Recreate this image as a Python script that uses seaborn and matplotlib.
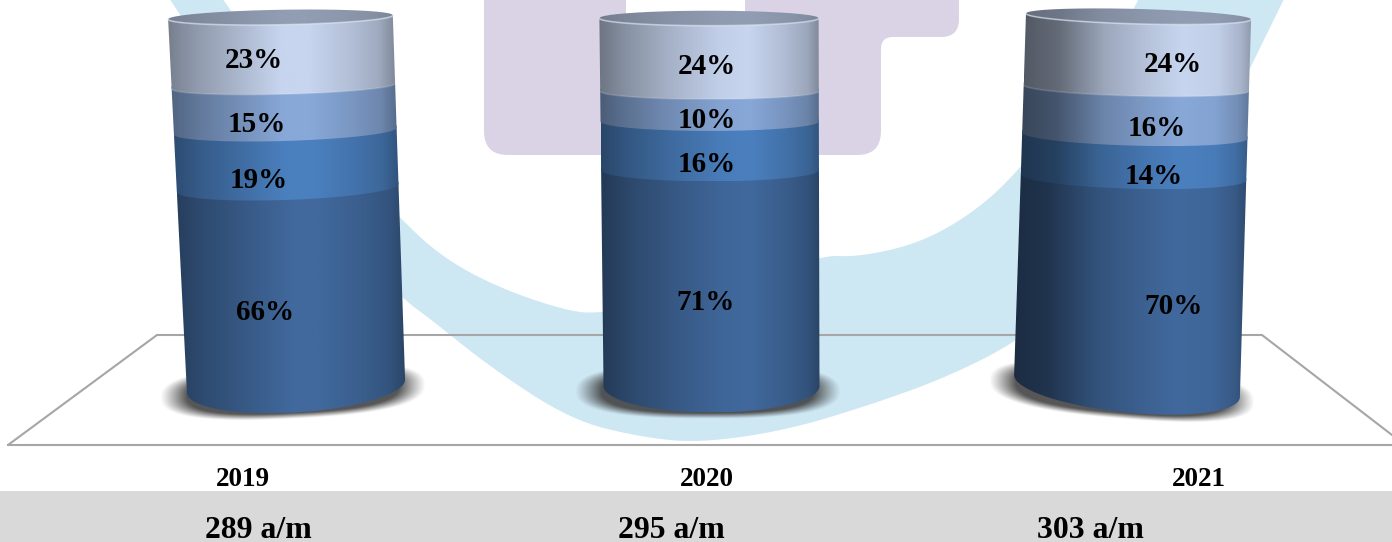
import numpy as np
import pandas as pd
import matplotlib
matplotlib.use('Agg')
import matplotlib.pyplot as plt
import seaborn as sns
from matplotlib.path import Path
from matplotlib.patches import PathPatch, Rectangle
from matplotlib.transforms import Affine2D

# data
years = ['2019', '2020', '2021']
share_1 = [66, 71, 70]
share_2 = [19, 16, 14]
share_3 = [15, 10, 16]
share_4 = [23, 24, 24]
totals = ['289 a/m', '295 a/m', '303 a/m']

# colours of the layers, bottom to top
layer_colors = ['#41699d', '#4b80bf', '#88a8d8', '#c7d5ef']

# drawing settings, all in pixels of the 1392x542 picture
W, H = 1392, 542
base_y = 386
unit_px = 2.98
lean = [-15.5, -2.5, 11.5]
tilt_top = [-4, 0, 6]
tilt_mid = [-8, 0, 6]
tilt_bottom = [-13, 0, 22]
stretch = [1.006, 1.02, 1.0]
width_bottom = [1.0, .99, 1.035]
width_top = [1.03, 1.005, 1.032]
shadow_x = [293, 708, 1122]
year_pos = [(243, 480), (707, 479), (1199, 479)]
total_pos = [(258, 530), (671, 530), (1090, 530)]
label_pos = [
    [(265, 312), (259, 180), (257, 124), (254, 61)],
    [(706, 303), (707, 164), (707, 121), (707, 66)],
    [(1174, 307), (1154, 176), (1157, 129), (1173, 64)],
]
light = [
    ([0, .12, .3, .5, .62, .8, .93, 1], [.6, .72, .85, 1, 1, .9, .8, .65]),
    ([0, .12, .3, .55, .68, .85, .95, 1], [.55, .68, .82, .97, 1, .88, .78, .65]),
    ([0, .15, .35, .55, .7, .85, .95, 1], [.42, .5, .78, .92, 1, .97, .85, .72]),
]

sns.set_theme(style='white')
plt.rcParams['font.family'] = ['Liberation Serif', 'DejaVu Serif']

fig = plt.figure(figsize=(W / 100, H / 100), dpi=100)
ax = fig.add_axes([0, 0, 1, 1])

# stacked bars: tallest cumulative first, so the library gives the geometry
stack = np.array([share_1, share_2, share_3, share_4], dtype=float)
cum = stack.cumsum(axis=0)
bars = {}
for k in range(3, -1, -1):
    df = pd.DataFrame({'year': years, 'value': cum[k]})
    n = len(ax.patches)
    sns.barplot(data=df, x='year', y='value', color=layer_colors[k], saturation=1,
                width=0.525, ax=ax)
    bars[k] = list(ax.patches[n:])

ax.set_xlim((0 - 296) / 415.5, (W - 296) / 415.5)
ax.set_ylim((base_y - H) / unit_px, base_y / unit_px)
ax.set_axis_off()

# pixel coordinates, y going down
px = Affine2D().scale(1 / W, -1 / H).translate(0, 1) + ax.transAxes


def smooth(pts, n=3):
    pts = np.array(pts, dtype=float)
    for _ in range(n):
        q = pts[:-1] * .75 + pts[1:] * .25
        r = pts[:-1] * .25 + pts[1:] * .75
        pts = np.vstack([pts[:1], np.column_stack([q, r]).reshape(-1, 2), pts[-1:]])
    return pts


def rounded(pts):
    # pts are (x, y, radius); corners become small curves
    out = []
    m = len(pts)
    for j in range(m):
        p = np.array(pts[j][:2], dtype=float)
        r = pts[j][2]
        if r == 0:
            out.append(p)
            continue
        a = np.array(pts[j - 1][:2], dtype=float)
        b = np.array(pts[(j + 1) % m][:2], dtype=float)
        s = p + (a - p) / np.linalg.norm(a - p) * r
        e = p + (b - p) / np.linalg.norm(b - p) * r
        for t in np.linspace(0, 1, 12):
            out.append((1 - t) ** 2 * s + 2 * t * (1 - t) * p + t ** 2 * e)
    return np.array(out)


def poly(pts, color, z, **kw):
    p = PathPatch(Path(pts), facecolor=color, edgecolor='none', transform=px, zorder=z, **kw)
    ax.add_patch(p)
    return p


# watermark behind the chart
swoosh_out = [(167, -5), (230, 90), (300, 200), (404, 300), (428, 317), (490, 367), (571, 420),
              (640, 437), (700, 443), (788, 430), (876, 403), (947, 377), (1015, 343),
              (1100, 280), (1200, 170), (1286, -5)]
swoosh_in = [(1141, -5), (1100, 70), (1017, 173), (973, 213), (920, 243), (859, 257), (819, 255),
             (700, 300), (602, 313), (571, 312), (504, 290), (446, 260), (401, 220), (300, 110),
             (220, -5)]
poly(np.vstack([smooth(swoosh_out), smooth(swoosh_in)]), '#cde7f3', 0.2)
lav = [(484, -5, 0), (484, 155, 24), (881, 155, 24), (881, 37, 12), (959, 37, 18), (959, -5, 0),
       (745, -5, 0), (745, 14, 0), (626, 14, 0), (626, -5, 0)]
poly(rounded(lav), '#d9d3e5', 0.3)

# floor
ax.plot([8, 157, 1262, 1405, 8], [445, 335, 335, 445, 445], color='#a6a6a6', lw=1.5,
        transform=px, zorder=1, solid_joinstyle='miter')

# band at the bottom
ax.add_patch(Rectangle((0, 491), W, 51, facecolor='#d9d9d9', edgecolor='none', transform=px, zorder=1))


def semi_minor(y):
    return np.interp(y, [18, 89, 136, 195, 386], [7.5, 8, 10, 12, 26.5])


for i in range(3):
    centre_data = bars[0][i].get_x() + bars[0][i].get_width() / 2
    half_data = bars[0][i].get_width() / 2
    c0 = ax.transData.transform((centre_data, 0))
    c1 = ax.transData.transform((centre_data + half_data, 0))
    cx0, hw0 = c0[0], c1[0] - c0[0]

    def side_y(v):
        disp = ax.transData.transform((0, v))[1]
        return base_y + ((H - disp) - base_y) * stretch[i]

    def arc(v, th):
        y = side_y(v)
        f = (base_y - y) / 368.0
        cx = cx0 + lean[i] * f
        hw = hw0 * (width_bottom[i] + (width_top[i] - width_bottom[i]) * f)
        tl = np.interp(y, [18, 190, 386], [tilt_top[i], tilt_mid[i], tilt_bottom[i]])
        return np.column_stack([cx + hw * np.cos(th), y + semi_minor(y) * np.sin(th) + tl * np.cos(th) / 2])

    front = np.linspace(np.pi, 0, 80)
    xs = np.linspace(0, 1, 300)
    prof = np.interp(xs, light[i][0], light[i][1])

    def gradient(color, clip, z, power=1.0):
        rgb = np.array(matplotlib.colors.to_rgb(color))
        arr = np.clip(prof[None, :, None] ** power * rgb[None, None, :], 0, 1)
        top_y, bot_y = clip[:, 1].min(), clip[:, 1].max()
        x0, x1 = clip[:, 0].min(), clip[:, 0].max()
        im = ax.imshow(arr, extent=(x0, x1, bot_y, top_y), aspect='auto', transform=px,
                       interpolation='bilinear', zorder=z)
        im.set_clip_path(Path(np.vstack([clip, clip[:1]])), px)

    # shadow under the cylinder, tilted with the base
    gx, gy = np.meshgrid(np.arange(shadow_x[i] - 150, shadow_x[i] + 151),
                         np.arange(345, 435))
    dx = (gx - shadow_x[i]) / 133.0
    dy = (gy - 391 - tilt_bottom[i] * dx / 2) / 28.0
    r = (np.abs(dx) ** 2.6 + np.abs(dy) ** 2.6) ** (1 / 2.6)
    sh = np.zeros(gx.shape + (4,))
    sh[..., :3] = .22
    sh[..., 3] = np.clip((1.0 - r) / .2, 0, 1) ** 1.1 * .85
    ax.imshow(sh, extent=(gx.min(), gx.max(), gy.max(), gy.min()), aspect='auto',
              transform=px, zorder=2, interpolation='bilinear')

    # layers, each one running a little under the next
    for k in range(4):
        bar = bars[k][i]
        v1 = bar.get_height()
        v0 = v1 - stack[k, i]
        bar.set_visible(False)
        low = arc(v0, front)
        up = arc(v1 + (1 if k < 3 else 0), front)
        shape = np.vstack([low, up[::-1]])
        gradient(bar.get_facecolor()[:3], shape, 3 + k * .1)
        if k == 2:
            line = arc(v1, front)
            ax.plot(line[:, 0], line[:, 1], color='white', alpha=.15, lw=1.2, transform=px, zorder=3.5)

    # top cap
    full = arc(cum[3, i], np.linspace(0, 2 * np.pi, 160))
    gradient('#919db3', full, 4, power=.4)
    rim = arc(cum[3, i], front)
    ax.plot(rim[:, 0], rim[:, 1], color='#dfe7f5', alpha=.6, lw=1.2, transform=px, zorder=4.1)

    # percent labels
    for k in range(4):
        x, y = label_pos[i][k]
        ax.text(x, y, f'{int(stack[k, i])}%', transform=px, ha='center', va='center',
                fontsize=21, fontweight='bold', color='black', zorder=6)

for i in range(3):
    ax.text(*year_pos[i], years[i], transform=px, ha='center', va='center', fontsize=19.5,
            fontweight='bold', color='black', zorder=6)
    ax.text(*total_pos[i], totals[i], transform=px, ha='center', va='center', fontsize=22.9,
            fontweight='bold', color='black', zorder=6)

ax.set_xlim((0 - 296) / 415.5, (W - 296) / 415.5)
ax.set_ylim((base_y - H) / unit_px, base_y / unit_px)

plt.savefig('out.png', dpi=100)
